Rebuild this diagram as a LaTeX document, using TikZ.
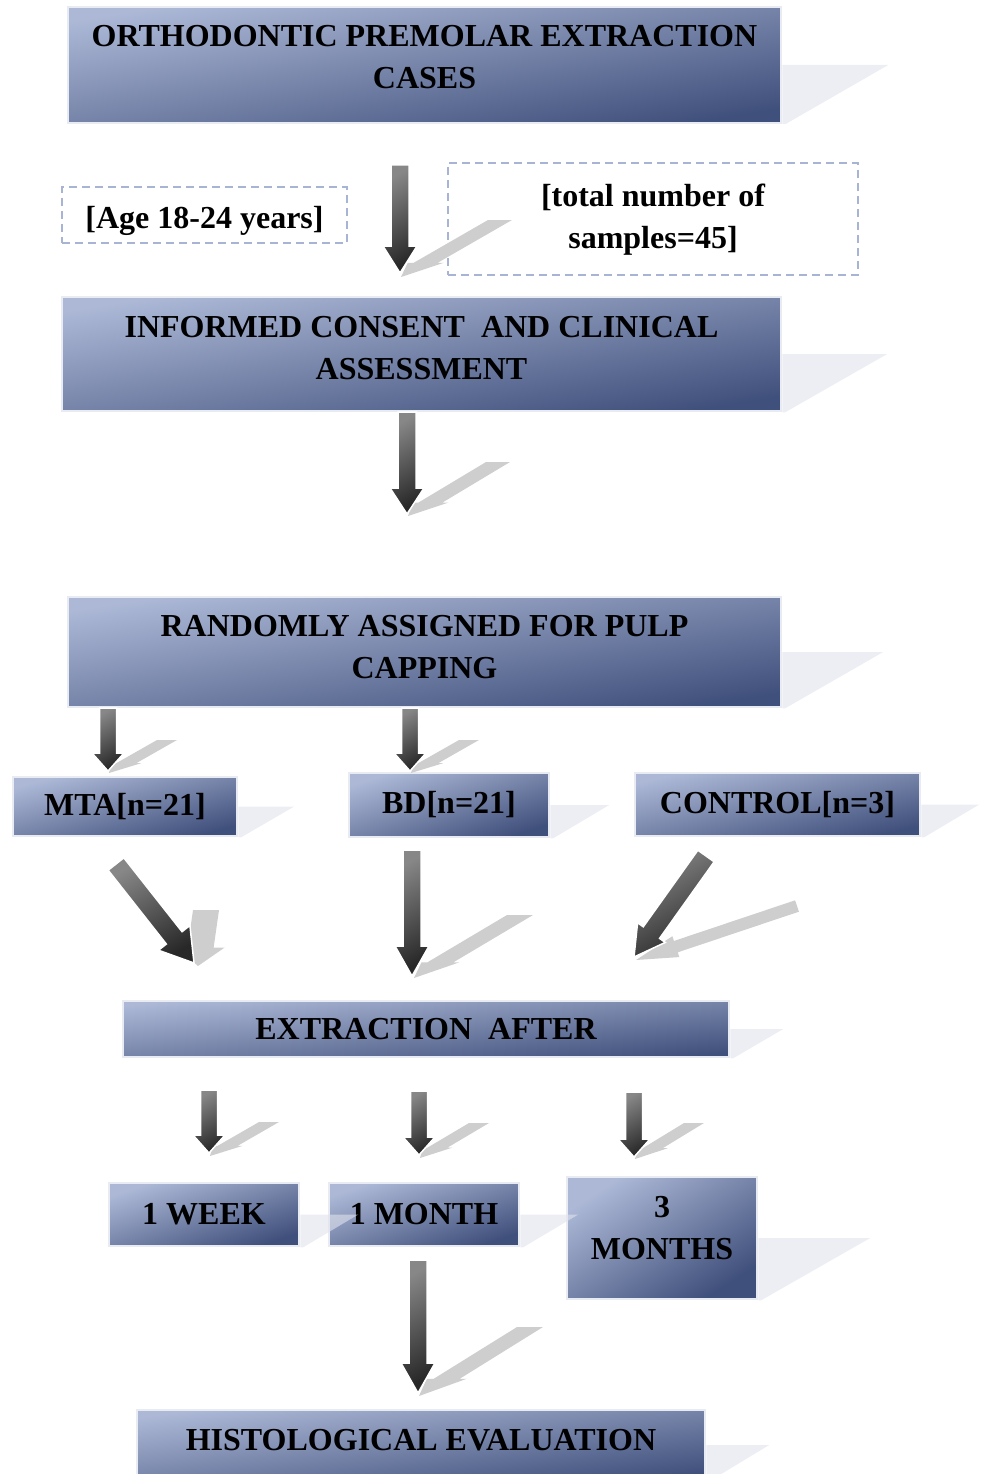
\documentclass[tikz,border=0pt]{standalone}
\usepackage{fontspec}
\setmainfont{Liberation Serif}
\usetikzlibrary{calc}

\definecolor{boxlight}{RGB}{172,184,214}
\definecolor{boxdark}{RGB}{64,80,124}
\definecolor{boxedge}{RGB}{232,235,242}
\definecolor{shadowc}{RGB}{224,227,237}
\definecolor{dashc}{RGB}{168,180,212}
\definecolor{arrowlight}{RGB}{135,135,135}
\definecolor{arrowdark}{RGB}{40,40,40}
\definecolor{arrowghost}{RGB}{206,206,206}

\tikzset{
  flowbox/.style={draw=boxedge, line width=2.5pt, top color=boxlight, bottom color=boxdark,
    shading angle=45, font=\fontsize{32}{42}\selectfont\bfseries, align=center, inner sep=0pt},
  notebox/.style={draw=dashc, line width=1.8pt, dash pattern=on 8pt off 5pt,
    font=\fontsize{32}{42}\selectfont\bfseries, align=center, inner sep=0pt},
  boxshadow/.style={fill=shadowc, fill opacity=.6},
  mainarrow/.style={top color=arrowlight, bottom color=arrowdark, shading angle=30,
    draw=white, line width=1.5pt},
  ghostarrow/.style={fill=arrowghost},
}

% style, start, end, half shaft, half head, head length
\newcommand{\fatarrow}[6]{%
  \coordinate (hb) at ($(#3)!#6!(#2)$);
  \path[#1] ($(#2)!#4!90:(#3)$) -- ($(hb)!#4!90:(#3)$) -- ($(hb)!#5!90:(#3)$) -- (#3)
    -- ($(hb)!#5!-90:(#3)$) -- ($(hb)!#4!-90:(#3)$) -- ($(#2)!#4!-90:(#3)$) -- cycle;
}
% end, tip, half shaft, half head, head fraction
\newcommand{\ghost}[5]{%
  \coordinate (gb) at ($(#2)!#5!(#1)$);
  \fill[ghostarrow] ([xshift=-#3]#1) -- ([xshift=#3]#1) -- ([xshift=#3]gb) -- ([xshift=#4]gb)
    -- (#2) -- ([xshift=-#4]gb) -- ([xshift=-#3]gb) -- cycle;
}
\newcommand{\dropshade}[2]{%
  \fill[boxshadow] (#1.east) -- ++(#2,0) -- ([xshift=3pt]#1.south east) -- (#1.south east) -- cycle;
}

\begin{document}
\begin{tikzpicture}[x=1pt, y=-1pt]
  \useasboundingbox (0,0) rectangle (984,1474);

  \node[flowbox, shading angle=9.2, minimum width=713pt, minimum height=116pt, text depth=16pt] (cases) at (424.5,65)
    {ORTHODONTIC PREMOLAR EXTRACTION\\CASES};
  \node[notebox, minimum width=285pt, minimum height=56pt, text height=30pt, text depth=3pt] (age) at (204.5,215)
    {[Age 18-24 years]};
  \node[notebox, minimum width=410pt, minimum height=112pt, text depth=6pt] (samples) at (653,219)
    {[total number of\\samples=45]};
  \node[flowbox, shading angle=9, minimum width=719pt, minimum height=114pt, text depth=13pt] (consent) at (421.5,354)
    {INFORMED CONSENT\ \ AND CLINICAL\\ASSESSMENT};
  \node[flowbox, shading angle=8.8, minimum width=713pt, minimum height=110pt, text depth=10pt] (random) at (424.5,652)
    {RANDOMLY ASSIGNED FOR PULP\\CAPPING};
  \node[flowbox, shading angle=14.8, minimum width=224pt, minimum height=59pt] (mta) at (125,806.5) {MTA[n=21]};
  \node[flowbox, shading angle=17.7, minimum width=200pt, minimum height=64pt] (bd) at (449,805) {BD[n=21]};
  \node[flowbox, shading angle=12.5, minimum width=285pt, minimum height=63pt] (control) at (777.5,804.5) {CONTROL[n=3]};
  \node[flowbox, shading angle=5.3, minimum width=606pt, minimum height=56pt] (extraction) at (426,1029)
    {EXTRACTION\ \ AFTER};
  \node[flowbox, shading angle=18.3, minimum width=190pt, minimum height=63pt] (week) at (204,1214.5) {1 WEEK};
  \node[flowbox, shading angle=18.3, minimum width=190pt, minimum height=63pt] (month) at (424,1214.5) {1 MONTH};
  \node[flowbox, shading angle=32.7, minimum width=190pt, minimum height=122pt, text depth=20pt] (months) at (662,1238)
    {3\\MONTHS};
  \node[flowbox, shading angle=7, minimum width=568pt, minimum height=70pt, text depth=10pt] (histo) at (421,1445)
    {HISTOLOGICAL EVALUATION};

  \dropshade{cases}{106}
  \dropshade{consent}{105}
  \dropshade{random}{101}
  \dropshade{mta}{56}
  \dropshade{bd}{59}
  \dropshade{control}{58}
  \dropshade{extraction}{53}
  \dropshade{week}{58}
  \dropshade{month}{58}
  \dropshade{months}{112}
  \dropshade{histo}{63}

  \coordinate (a1s) at (400,165);  \coordinate (a1t) at (400,273);
  \coordinate (g1s) at (500,220);  \coordinate (g1t) at (401,277);
  \coordinate (a2s) at (407,412);  \coordinate (a2t) at (407,514);
  \coordinate (g2s) at (498,462);  \coordinate (g2t) at (408,516);
  \coordinate (a3s) at (108,708);  \coordinate (a3t) at (108,771);
  \coordinate (g3s) at (167,740);  \coordinate (g3t) at (109,773);
  \coordinate (a4s) at (410,708);  \coordinate (a4t) at (410,771);
  \coordinate (g4s) at (469,740);  \coordinate (g4t) at (411,773);
  \coordinate (a5s) at (116,864);  \coordinate (a5t) at (194,963);
  \coordinate (g5s) at (206,910);  \coordinate (g5t) at (198,966);
  \coordinate (a6s) at (412,850);  \coordinate (a6t) at (412,976);
  \coordinate (g6s) at (520,915);  \coordinate (g6t) at (414,978);
  \coordinate (a7s) at (706,856);  \coordinate (a7t) at (634,957);
  \coordinate (g7s) at (797,906);  \coordinate (g7t) at (636,960);
  \coordinate (a8s) at (209,1090); \coordinate (a8t) at (209,1153);
  \coordinate (g8s) at (269,1122); \coordinate (g8t) at (210,1156);
  \coordinate (a9s) at (419,1091); \coordinate (a9t) at (419,1155);
  \coordinate (g9s) at (479,1123); \coordinate (g9t) at (420,1158);
  \coordinate (a10s) at (634,1092); \coordinate (a10t) at (634,1157);
  \coordinate (g10s) at (694,1123); \coordinate (g10t) at (635,1159);
  \coordinate (a11s) at (418,1260); \coordinate (a11t) at (418,1393);
  \coordinate (g11s) at (530,1327); \coordinate (g11t) at (419,1396);

  \ghost{g1s}{g1t}{12pt}{18pt}{.25}
  \fatarrow{mainarrow}{a1s}{a1t}{9pt}{17pt}{27pt}
  \ghost{g2s}{g2t}{12pt}{18pt}{.25}
  \fatarrow{mainarrow}{a2s}{a2t}{9pt}{17pt}{26pt}
  \ghost{g3s}{g3t}{10pt}{15pt}{.3}
  \fatarrow{mainarrow}{a3s}{a3t}{8.5pt}{16pt}{18pt}
  \ghost{g4s}{g4t}{10pt}{15pt}{.3}
  \fatarrow{mainarrow}{a4s}{a4t}{8.5pt}{16pt}{18pt}
  \ghost{g5s}{g5t}{13pt}{24pt}{.33}
  \fatarrow{mainarrow}{a5s}{a5t}{10pt}{20pt}{32pt}
  \ghost{g6s}{g6t}{13pt}{19pt}{.25}
  \fatarrow{mainarrow}{a6s}{a6t}{9pt}{17pt}{30pt}
  \fatarrow{ghostarrow}{g7s}{g7t}{6pt}{11pt}{42pt}
  \fatarrow{mainarrow}{a7s}{a7t}{10pt}{17pt}{30pt}
  \ghost{g8s}{g8t}{10pt}{15pt}{.3}
  \fatarrow{mainarrow}{a8s}{a8t}{8.5pt}{16pt}{18pt}
  \ghost{g9s}{g9t}{10pt}{15pt}{.3}
  \fatarrow{mainarrow}{a9s}{a9t}{8.5pt}{16pt}{18pt}
  \ghost{g10s}{g10t}{10pt}{15pt}{.3}
  \fatarrow{mainarrow}{a10s}{a10t}{8.5pt}{16pt}{18pt}
  \ghost{g11s}{g11t}{13pt}{20pt}{.25}
  \fatarrow{mainarrow}{a11s}{a11t}{9pt}{17pt}{30pt}
\end{tikzpicture}
\end{document}
